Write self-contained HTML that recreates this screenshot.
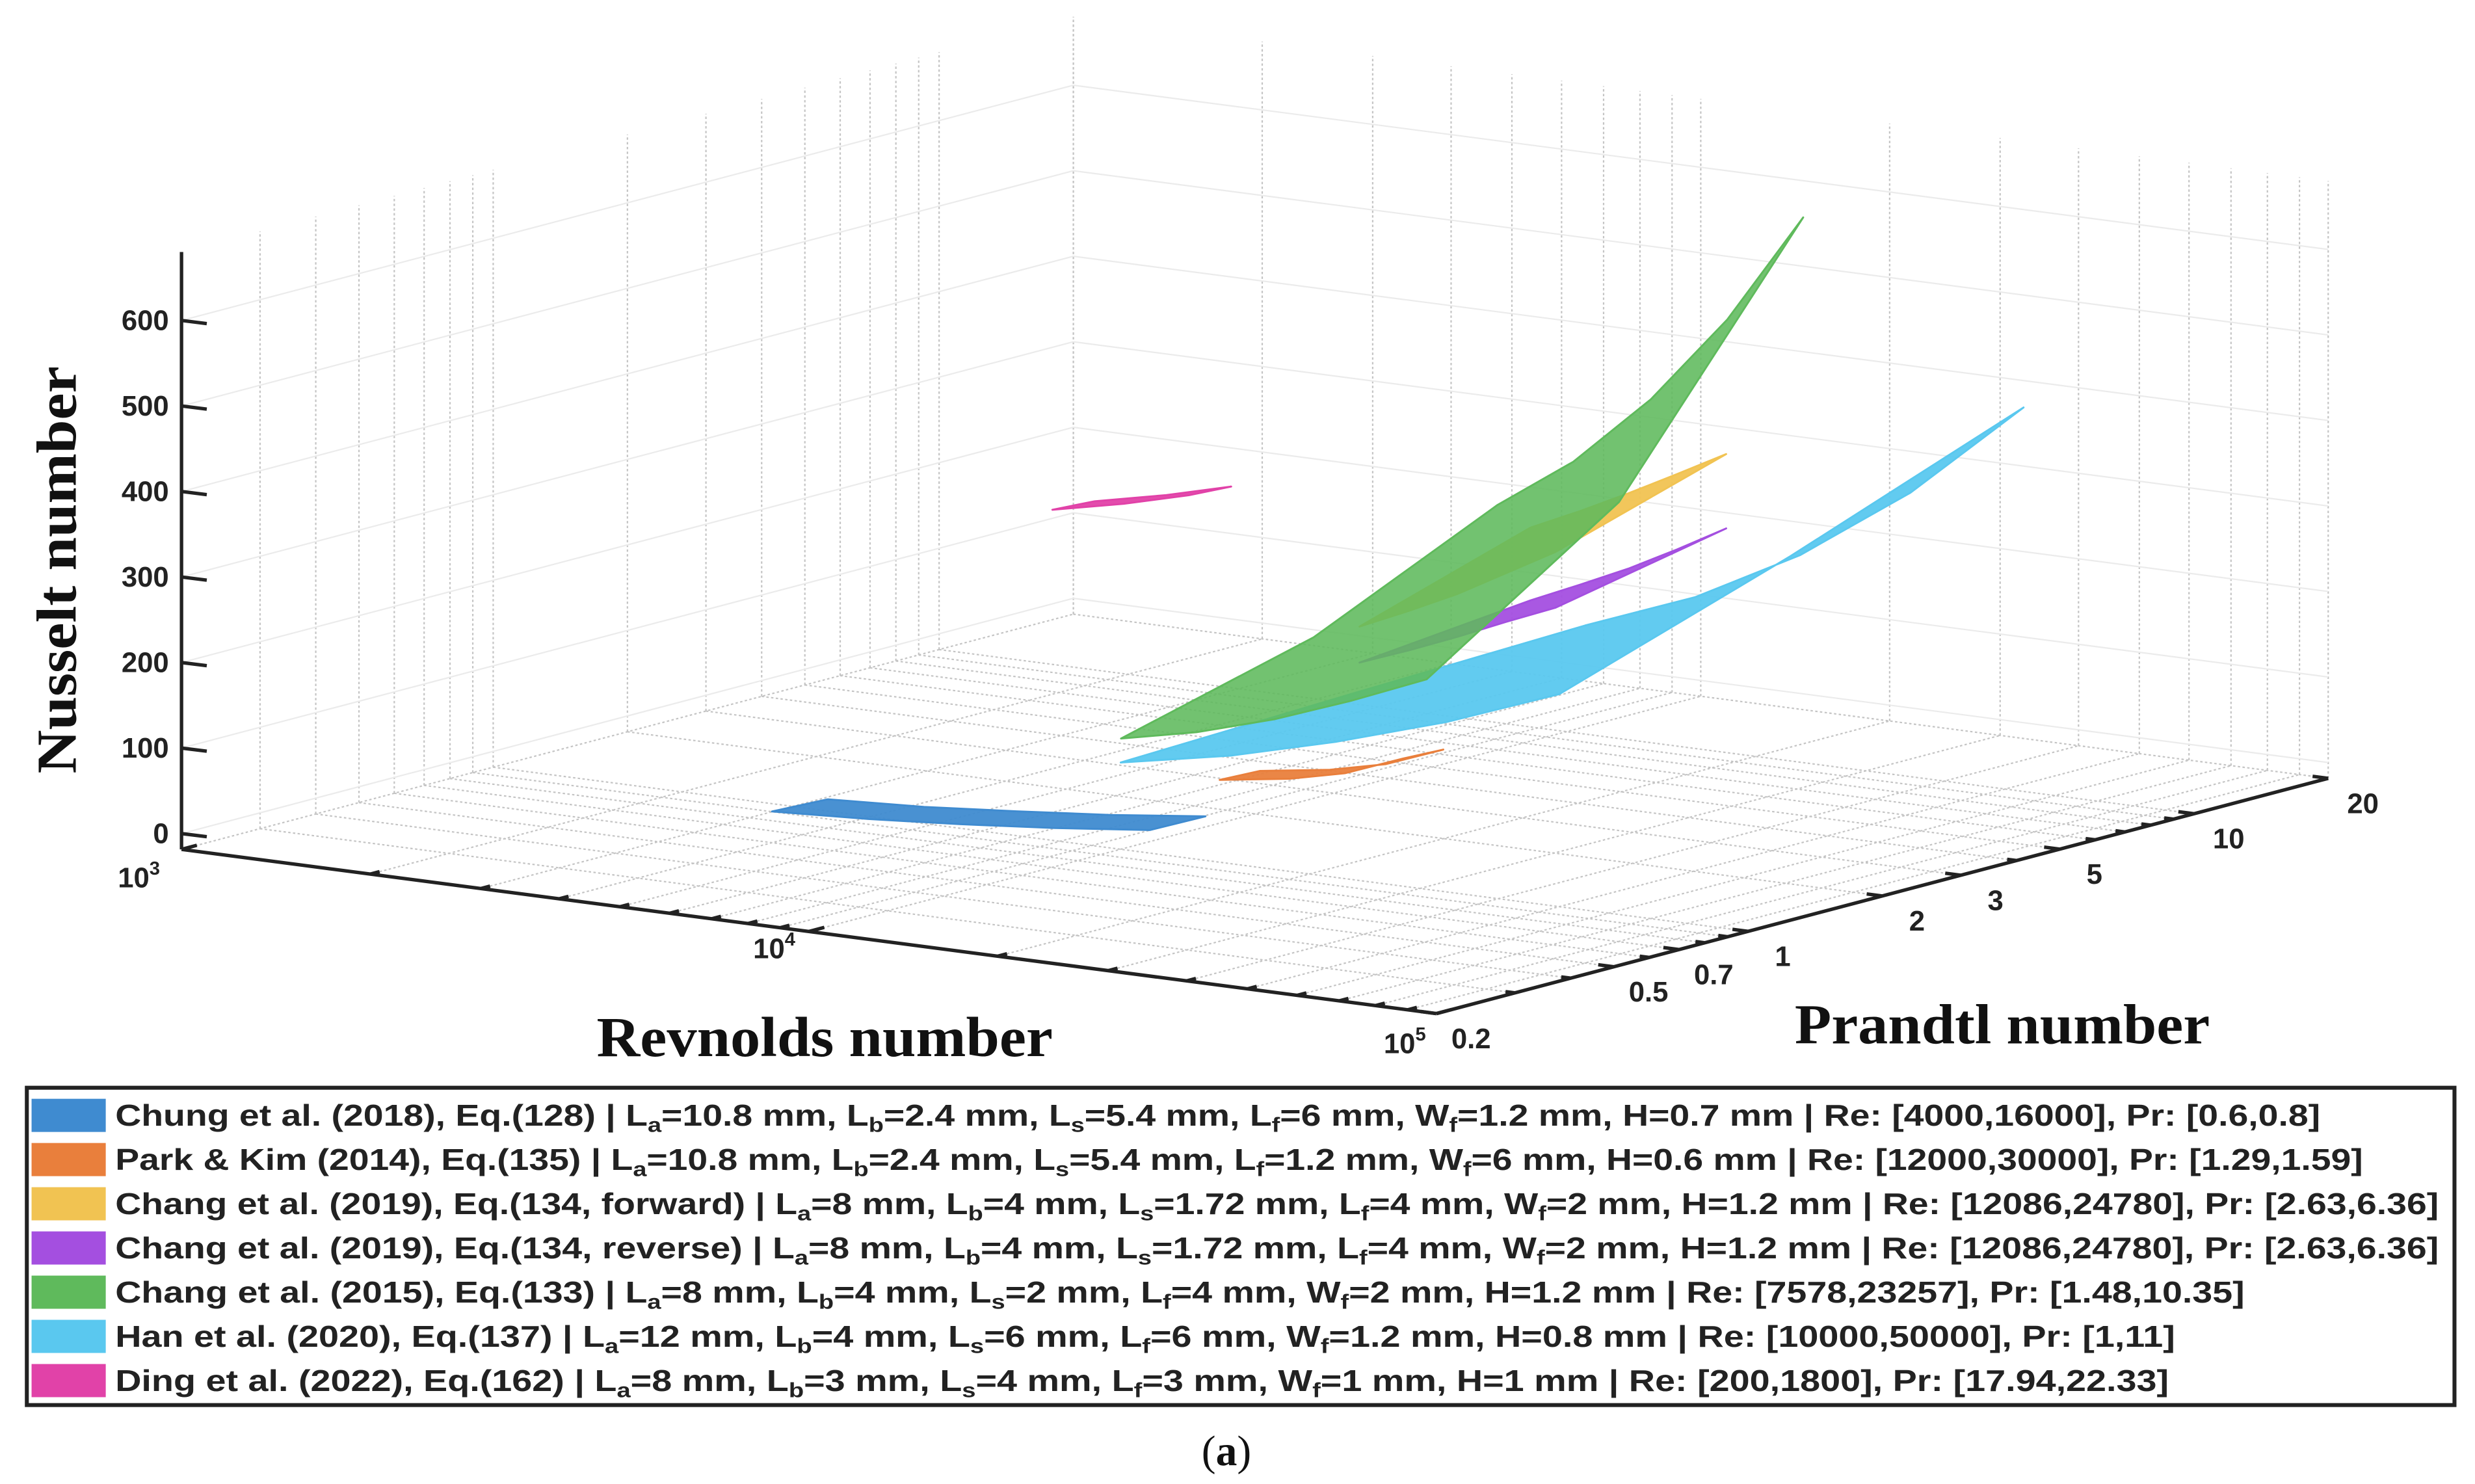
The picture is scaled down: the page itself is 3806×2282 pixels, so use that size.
<!DOCTYPE html>
<html><head><meta charset="utf-8"><style>
html,body{margin:0;padding:0;background:#fff;}
svg{display:block;}
.tk{font-family:"Liberation Sans",Arial,sans-serif;font-weight:bold;font-size:18px;fill:#222;}
.lg{font-family:"Liberation Sans",Arial,sans-serif;font-weight:bold;font-size:19px;fill:#222;}
.ax{font-family:"Liberation Serif","Times New Roman",serif;font-weight:bold;font-size:36px;fill:#111;}
</style></head><body>
<svg id="chart" width="3806" height="2282" viewBox="0 0 1568 940" preserveAspectRatio="none" xmlns="http://www.w3.org/2000/svg">
<g id="grid"></g>
<g id="surfaces"></g>
<g id="axes"></g>
<text class="ax" transform="translate(48,361) rotate(-90)" text-anchor="middle" textLength="258" lengthAdjust="spacingAndGlyphs">Nusselt number</text>
<text class="ax" x="378" y="669" textLength="289" lengthAdjust="spacingAndGlyphs">Revnolds number</text>
<text class="ax" x="1137" y="661" textLength="263" lengthAdjust="spacingAndGlyphs">Prandtl number</text>

<g>
<rect x="17" y="689" width="1538" height="201" fill="#fff" stroke="#222" stroke-width="2.5"/>
<rect x="20" y="696" width="47" height="21" fill="#3f8bd0"/>
<text class="lg" x="73" y="713" textLength="1397" lengthAdjust="spacingAndGlyphs">Chung et al. (2018), Eq.(128) | L<tspan font-size="13" dy="4">a</tspan><tspan dy="-4">=10.8 mm, L</tspan><tspan font-size="13" dy="4">b</tspan><tspan dy="-4">=2.4 mm, L</tspan><tspan font-size="13" dy="4">s</tspan><tspan dy="-4">=5.4 mm, L</tspan><tspan font-size="13" dy="4">f</tspan><tspan dy="-4">=6 mm, W</tspan><tspan font-size="13" dy="4">f</tspan><tspan dy="-4">=1.2 mm, H=0.7 mm | Re: [4000,16000], Pr: [0.6,0.8]</tspan></text>
<rect x="20" y="724" width="47" height="21" fill="#e97f3c"/>
<text class="lg" x="73" y="741" textLength="1424" lengthAdjust="spacingAndGlyphs">Park &amp; Kim (2014), Eq.(135) | L<tspan font-size="13" dy="4">a</tspan><tspan dy="-4">=10.8 mm, L</tspan><tspan font-size="13" dy="4">b</tspan><tspan dy="-4">=2.4 mm, L</tspan><tspan font-size="13" dy="4">s</tspan><tspan dy="-4">=5.4 mm, L</tspan><tspan font-size="13" dy="4">f</tspan><tspan dy="-4">=1.2 mm, W</tspan><tspan font-size="13" dy="4">f</tspan><tspan dy="-4">=6 mm, H=0.6 mm | Re: [12000,30000], Pr: [1.29,1.59]</tspan></text>
<rect x="20" y="752" width="47" height="21" fill="#f1c352"/>
<text class="lg" x="73" y="769" textLength="1472" lengthAdjust="spacingAndGlyphs">Chang et al. (2019), Eq.(134, forward) | L<tspan font-size="13" dy="4">a</tspan><tspan dy="-4">=8 mm, L</tspan><tspan font-size="13" dy="4">b</tspan><tspan dy="-4">=4 mm, L</tspan><tspan font-size="13" dy="4">s</tspan><tspan dy="-4">=1.72 mm, L</tspan><tspan font-size="13" dy="4">f</tspan><tspan dy="-4">=4 mm, W</tspan><tspan font-size="13" dy="4">f</tspan><tspan dy="-4">=2 mm, H=1.2 mm | Re: [12086,24780], Pr: [2.63,6.36]</tspan></text>
<rect x="20" y="780" width="47" height="21" fill="#a44fe0"/>
<text class="lg" x="73" y="797" textLength="1472" lengthAdjust="spacingAndGlyphs">Chang et al. (2019), Eq.(134, reverse) | L<tspan font-size="13" dy="4">a</tspan><tspan dy="-4">=8 mm, L</tspan><tspan font-size="13" dy="4">b</tspan><tspan dy="-4">=4 mm, L</tspan><tspan font-size="13" dy="4">s</tspan><tspan dy="-4">=1.72 mm, L</tspan><tspan font-size="13" dy="4">f</tspan><tspan dy="-4">=4 mm, W</tspan><tspan font-size="13" dy="4">f</tspan><tspan dy="-4">=2 mm, H=1.2 mm | Re: [12086,24780], Pr: [2.63,6.36]</tspan></text>
<rect x="20" y="808" width="47" height="21" fill="#5fba5c"/>
<text class="lg" x="73" y="825" textLength="1349" lengthAdjust="spacingAndGlyphs">Chang et al. (2015), Eq.(133) | L<tspan font-size="13" dy="4">a</tspan><tspan dy="-4">=8 mm, L</tspan><tspan font-size="13" dy="4">b</tspan><tspan dy="-4">=4 mm, L</tspan><tspan font-size="13" dy="4">s</tspan><tspan dy="-4">=2 mm, L</tspan><tspan font-size="13" dy="4">f</tspan><tspan dy="-4">=4 mm, W</tspan><tspan font-size="13" dy="4">f</tspan><tspan dy="-4">=2 mm, H=1.2 mm | Re: [7578,23257], Pr: [1.48,10.35]</tspan></text>
<rect x="20" y="836" width="47" height="21" fill="#5ac8ef"/>
<text class="lg" x="73" y="853" textLength="1305" lengthAdjust="spacingAndGlyphs">Han et al. (2020), Eq.(137) | L<tspan font-size="13" dy="4">a</tspan><tspan dy="-4">=12 mm, L</tspan><tspan font-size="13" dy="4">b</tspan><tspan dy="-4">=4 mm, L</tspan><tspan font-size="13" dy="4">s</tspan><tspan dy="-4">=6 mm, L</tspan><tspan font-size="13" dy="4">f</tspan><tspan dy="-4">=6 mm, W</tspan><tspan font-size="13" dy="4">f</tspan><tspan dy="-4">=1.2 mm, H=0.8 mm | Re: [10000,50000], Pr: [1,11]</tspan></text>
<rect x="20" y="864" width="47" height="21" fill="#e142a8"/>
<text class="lg" x="73" y="881" textLength="1301" lengthAdjust="spacingAndGlyphs">Ding et al. (2022), Eq.(162) | L<tspan font-size="13" dy="4">a</tspan><tspan dy="-4">=8 mm, L</tspan><tspan font-size="13" dy="4">b</tspan><tspan dy="-4">=3 mm, L</tspan><tspan font-size="13" dy="4">s</tspan><tspan dy="-4">=4 mm, L</tspan><tspan font-size="13" dy="4">f</tspan><tspan dy="-4">=3 mm, W</tspan><tspan font-size="13" dy="4">f</tspan><tspan dy="-4">=1 mm, H=1 mm | Re: [200,1800], Pr: [17.94,22.33]</tspan></text>
</g>
<text x="777" y="928" text-anchor="middle" font-family="Liberation Serif, serif" font-size="27" fill="#111">(<tspan font-weight="bold">a</tspan>)</text>
</svg>
<script>
// ---- data ----
const nuTicks = [0,100,200,300,400,500,600];
const reMajor = [1000,10000,100000];
const reMinor = [2000,3000,4000,5000,6000,7000,8000,9000,20000,30000,40000,50000,60000,70000,80000,90000];
const prTicks = [0.2,0.5,0.7,1,2,3,5,10,20];
const prMinor = [0.3,0.4,0.6,0.8,0.9,4,6,7,8,9];
const seriesNames = ["chung","park","han","chang-reverse","chang-forward","chang-2015","ding"];
const seriesColors = ["#3f8bd0","#e97f3c","#5ac8ef","#a44fe0","#f1c352","#5fba5c","#e142a8"];
const chungRe = [4000,5700,8000,11300,16000];   const chungPr = [0.6,0.8];
const chungNu = [[18,24,32,42,54],[15,21,30,40,53]];
const parkRe = [12000,15500,19000,23500];  const parkPr = [1.29,1.59];
const parkNu = [[55,67,82,108],[53,65,80,106]];
const hanRe = [10000,15000,22000,33000,50000];   const hanPr = [1,3.3,11];
const hanNu = [[83,108,140,180,230],[92,128,175,240,320],[100,150,215,305,422]];
const revRe = [12086,14500,17300,20700,24780];   const revPr = [2.63,6.36];
const revNu = [[150,172,195,220,244],[170,196,222,252,284]];
const fwdRe = [12086,14500,17300,20700,24780];   const fwdPr = [2.63,6.36];
const fwdNu = [[192,218,245,277,309],[255,282,310,340,371]];
const c15Re = [7578,10000,13300,17600,23257];    const c15Pr = [1.48,4,10.35];
const c15Nu = [[76,95,122,155,192],[135,165,212,268,340],[233,295,380,485,616]];
const dingRe = [1000,1300,1650];     const dingPr = [17.94,22.33];
const dingNu = [[110,128,148],[107,125,145]];

// ---- axis functions ----
const NUMIN=-18.5, NUMAX=680;
function uOf(re){return Math.log10(re)-3;}
function vOf(pr){return (Math.log10(pr)-Math.log10(0.2))/2;}
function P(re,pr,nu){const u=uOf(re),v=vOf(pr);return [115+397.5*u+565*v, 528+52*u-149*v-0.5417*nu];}
const NS="http://www.w3.org/2000/svg";
function mk(tag,attrs,parent){const e=document.createElementNS(NS,tag);for(const k in attrs)e.setAttribute(k,attrs[k]);parent.appendChild(e);return e;}
function line(a,b,parent,st){return mk('line',Object.assign({x1:a[0],y1:a[1],x2:b[0],y2:b[1]},st),parent);}
const grid=document.getElementById('grid'), axes=document.getElementById('axes'), surf=document.getElementById('surfaces');
const gst={stroke:'#c4c4c4','stroke-width':0.9,'stroke-dasharray':'1.5 1.5'};
const hst={stroke:'#ebebeb','stroke-width':0.9};
const allRe=reMajor.concat(reMinor), allPr=prTicks.concat(prMinor);
allRe.forEach(re=>{const l=line(P(re,20,NUMIN),P(re,20,NUMAX),grid,gst);

});
allPr.forEach(pr=>{const l=line(P(1000,pr,NUMIN),P(1000,pr,NUMAX),grid,gst);

});
nuTicks.forEach(nu=>{
 const a=line(P(1000,0.2,nu),P(1000,20,nu),grid,hst);
 
 
 const b=line(P(1000,20,nu),P(100000,20,nu),grid,hst);
 
 });
allRe.forEach(re=>{const l=line(P(re,0.2,NUMIN),P(re,20,NUMIN),grid,gst);

});
allPr.forEach(pr=>{const l=line(P(1000,pr,NUMIN),P(100000,pr,NUMIN),grid,gst);

});

// surfaces
const sets=[[chungRe,chungPr,chungNu],[parkRe,parkPr,parkNu],[hanRe,hanPr,hanNu],[revRe,revPr,revNu],[fwdRe,fwdPr,fwdNu],[c15Re,c15Pr,c15Nu],[dingRe,dingPr,dingNu]];
sets.forEach((s,i)=>{
 const [R,Pr,N]=s; const pts=[]; const last=Pr.length-1;
 for(let j=0;j<R.length;j++)pts.push(P(R[j],Pr[0],N[0][j]));
 for(let k=1;k<=last;k++)pts.push(P(R[R.length-1],Pr[k],N[k][R.length-1]));
 for(let j=R.length-2;j>=0;j--)pts.push(P(R[j],Pr[last],N[last][j]));
 for(let k=last-1;k>0;k--)pts.push(P(R[0],Pr[k],N[k][0]));
 const p=mk('polygon',{points:pts.map(q=>q[0].toFixed(1)+','+q[1].toFixed(1)).join(' '),fill:seriesColors[i],'fill-opacity':i===5?0.88:0.95,stroke:seriesColors[i],'stroke-width':1.2,'stroke-linejoin':'round'},surf);
 
 
});

// axes
const ast={stroke:'#222','stroke-width':2.2};
let e=line(P(1000,0.2,NUMIN),P(1000,0.2,NUMAX),axes,ast);


e=line(P(1000,0.2,NUMIN),P(100000,0.2,NUMIN),axes,ast);


e=line(P(100000,0.2,NUMIN),P(100000,20,NUMIN),axes,ast);


nuTicks.forEach(nu=>{const q=P(1000,0.2,nu);
 const t=line(q,[q[0]+16,q[1]+2],axes,ast);
 
 
 const tx=mk('text',{x:q[0]-8,y:q[1]+6,'text-anchor':'end',class:'tk'},axes);tx.textContent=nu;
 
 });
allRe.forEach(re=>{const q=P(re,0.2,NUMIN);const L=reMajor.includes(re)?10:6;
 const t=line(q,[q[0]+L*0.97,q[1]-L*0.26],axes,ast);
 
 });
const reLabelOff=[[-27,24],[-22,17],[-20,25]];
reMajor.forEach((re,i)=>{const q=P(re,0.2,NUMIN);
 const tx=mk('text',{x:q[0]+reLabelOff[i][0],y:q[1]+reLabelOff[i][1],'text-anchor':'middle',class:'tk'},axes);
 tx.innerHTML='10<tspan font-size="12" dy="-8">'+Math.round(Math.log10(re))+'</tspan>';
 
 });
allPr.forEach(pr=>{const q=P(100000,pr,NUMIN);const L=prTicks.includes(pr)?10:6;
 const t=line(q,[q[0]-L*0.99,q[1]-L*0.13],axes,ast);
 
 });
prTicks.forEach(pr=>{const q=P(100000,pr,NUMIN);
 const tx=mk('text',{x:q[0]+22,y:q[1]+22,'text-anchor':'middle',class:'tk'},axes);tx.textContent=pr;
 
 });
</script>
</body></html>
